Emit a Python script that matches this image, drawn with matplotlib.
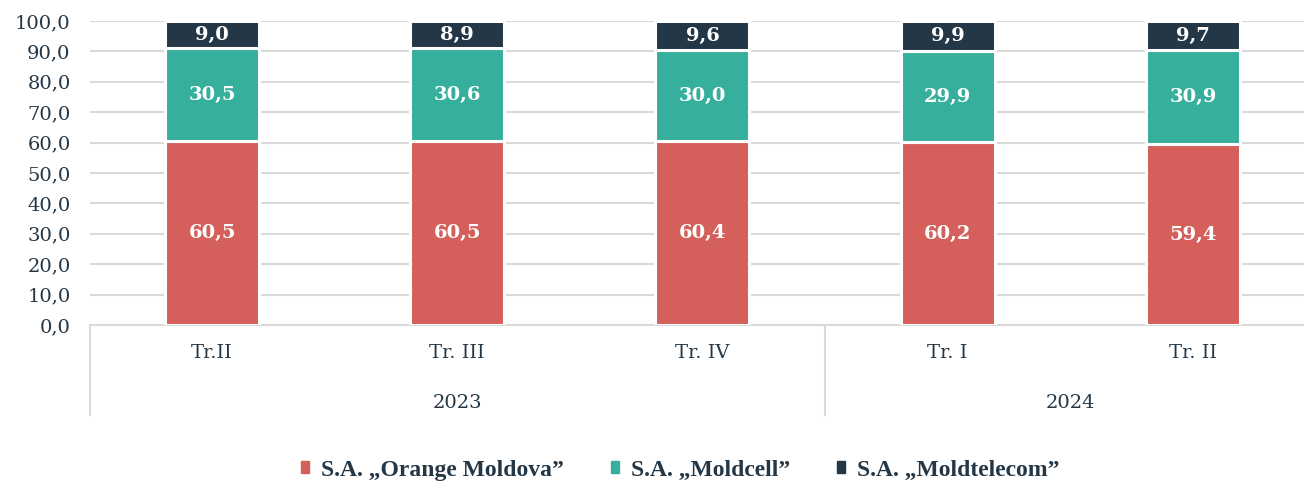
import matplotlib.pyplot as plt
import numpy as np

# Data
quarters = ["Tr.II", "Tr. III", "Tr. IV", "Tr. I", "Tr. II"]
years = ["2023", "2024"]
year_spans = [(0, 2), (3, 4)]
orange = [60.5, 60.5, 60.4, 60.2, 59.4]
moldcell = [30.5, 30.6, 30.0, 29.9, 30.9]
moldtelecom = [9.0, 8.9, 9.6, 9.9, 9.7]
series_names = ["S.A. „Orange Moldova”", "S.A. „Moldcell”", "S.A. „Moldtelecom”"]
colors = ["#D45F5B", "#36B09C", "#243746"]
text_color = "#243746"
grid_color = "#D9D9D9"

plt.rcParams['font.family'] = ['DejaVu Serif']

fig = plt.figure(figsize=(13.04, 4.86), dpi=100)
W, H = 1304, 486
ax = fig.add_axes([90 / W, 1 - 325 / H, 1 - 90 / W, (325 - 21) / H])

x = np.arange(len(quarters))
width = 0.383
bottom = np.zeros(len(quarters))
for vals, col in zip([orange, moldcell, moldtelecom], colors):
    vals = np.array(vals)
    ax.bar(x, vals, width, bottom=bottom, color=col, edgecolor="white",
           linewidth=2.2, zorder=3)
    for xi, b, v in zip(x, bottom, vals):
        ax.text(xi, b + v / 2, f"{v:.1f}".replace(".", ","), ha="center",
                va="center", color="white", fontsize=14, fontweight="bold",
                zorder=4)
    bottom += vals

ax.set_xlim(-0.4975, 4.453)
ax.set_ylim(0, 100)
ax.set_yticks(np.arange(0, 101, 10))
ax.set_yticklabels([f"{v:.1f}".replace(".", ",") for v in np.arange(0, 101, 10)],
                   fontsize=14, color=text_color)
ax.yaxis.grid(True, color=grid_color, linewidth=1.5, zorder=0)
ax.tick_params(axis="y", length=0, pad=14)
ax.set_xticks([])
for s in ["top", "right", "left"]:
    ax.spines[s].set_visible(False)
ax.spines["bottom"].set_color(grid_color)
ax.spines["bottom"].set_linewidth(1.5)

# Category labels and year groups below the axis
trans = ax.get_xaxis_transform()
for xi, q in zip(x, quarters):
    ax.text(xi, -28 / 304, q, transform=trans, ha="center",
            va="center", fontsize=14, color=text_color)
for (a, b), yr in zip(year_spans, years):
    ax.text((a + b) / 2, -78 / 304, yr, transform=trans, ha="center",
            va="center", fontsize=14, color=text_color)
for sep in [-0.4975, 2.5]:
    ax.plot([sep, sep], [0, -90 / 304], transform=trans, color=grid_color,
            linewidth=1.5, clip_on=False)

# Legend
handles = [plt.Rectangle((0, 0), 1, 1, color=c) for c in colors]
fig.legend(handles, series_names, loc="center", bbox_to_anchor=(680 / W, 1 - 470 / H),
           ncol=3, frameon=False, handlelength=0.35, handleheight=0.35,
           columnspacing=2.0, handletextpad=0.5,
           prop={"family": "Liberation Serif", "size": 17, "weight": "bold"},
           labelcolor=text_color)

fig.savefig("out.png", dpi=100, facecolor="white")
